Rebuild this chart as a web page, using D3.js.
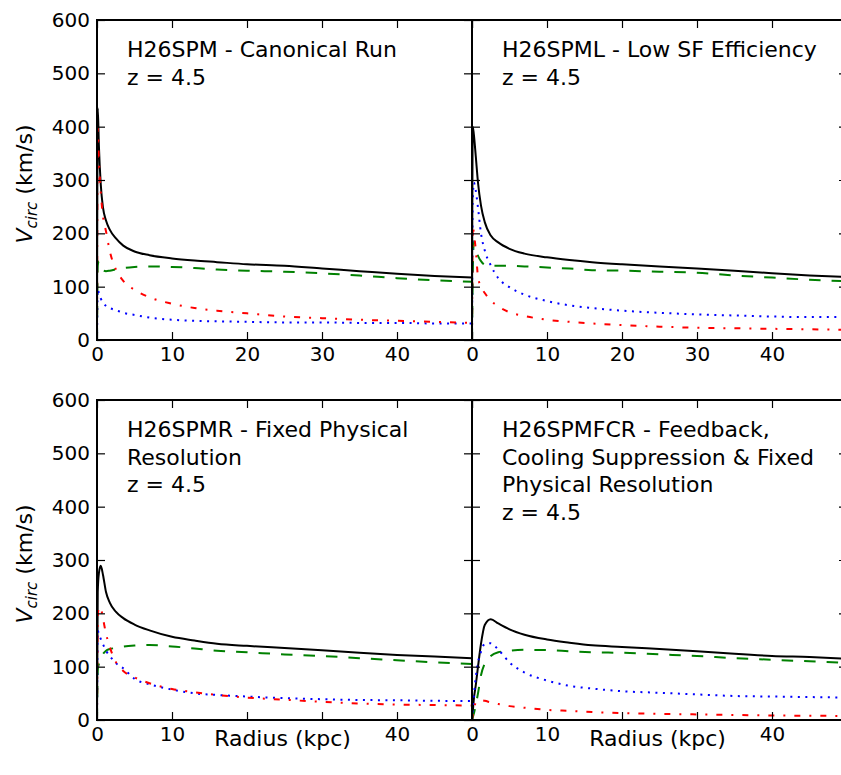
<!DOCTYPE html>
<html>
<head>
<meta charset="utf-8">
<script src="https://cdn.jsdelivr.net/npm/d3@7/dist/d3.min.js"></script>
<style>
  html, body { margin: 0; padding: 0; background: #fff; }
  svg { display: block; font-family: "DejaVu Sans", sans-serif; }
</style>
</head>
<body>
<svg id="chart" width="841" height="775"></svg>
<script>
// Radii (kpc) at which the rotation-curve components are sampled
const radius = [0, 0.1, 0.25, 0.5, 0.8, 1.2, 1.7, 2.5, 3.5, 5, 7, 10, 13, 16, 20, 25, 30, 35, 40, 45, 50];

// H26SPM - canonical run
const canonicalTotal = [0, 435, 365, 292, 248, 224, 207, 191, 177, 166, 159, 153, 149, 146, 142, 139, 134, 129, 124, 120, 117];
const canonicalDark  = [0, 140, 148, 140, 131, 129, 130, 132.5, 135, 137, 138, 137, 135, 132, 130, 128, 125, 121, 116, 112, 109];
const canonicalGas   = [0, 95, 88, 78, 70, 64, 60, 56, 51, 47, 42, 38, 36, 35, 34, 33, 33, 32, 32, 31, 31];
const canonicalStars = [0, 397, 340, 278, 232, 204, 167, 133, 111, 94, 80, 68, 60, 55, 50, 44, 41, 38, 36, 34, 32];

// H26SPML - low star formation efficiency
const lowSFTotal = [0, 400, 385, 345, 295, 252, 221, 196, 183, 171, 162, 155, 150, 146, 142, 138, 134, 130, 125, 121, 118];
const lowSFDark  = [0, 120, 185, 172, 158, 148, 141, 139, 139, 139, 138, 136, 134, 131, 130, 128, 126, 121, 117, 113, 110];
const lowSFGas   = [0, 260, 295, 280, 248, 200, 168, 140, 116, 99, 85, 73, 65, 60, 55, 51, 48, 46, 44, 43, 43];
const lowSFStars = [0, 215, 200, 170, 118, 100, 88, 74, 63, 52, 45, 38, 34, 31, 28, 25, 23, 22, 21, 20, 19];

// H26SPMR - fixed physical resolution
const fixedResTotal = [0, 240, 275, 289, 272, 240, 220, 203, 191, 179, 168, 156, 149, 143, 139, 135, 131, 126, 122, 119, 116];
const fixedResDark  = [0, 94, 105, 117, 124, 130, 133, 135, 137.5, 139.5, 140.5, 138, 134, 130, 127, 123, 120, 116, 112, 108, 105];
const fixedResGas   = [0, 168, 160, 152, 142, 130, 120, 107, 97, 77, 67, 57, 50, 47, 44, 41, 39, 37.5, 37, 36, 35.5];
const fixedResStars = [0, 190, 212, 210, 190, 162, 137, 109, 92, 80, 69, 58, 52, 47, 42, 38, 34, 31, 29, 28, 27];

// H26SPMFCR - feedback, cooling suppression & fixed physical resolution
const fcrTotal = [0, 15, 40, 65, 100, 143, 178, 189, 181, 170, 160, 151, 145, 140, 137, 133, 129, 124, 120, 118, 115];
const fcrDark  = [0, 5, 12, 28, 50, 84, 106, 120, 127, 130, 131.5, 131, 129, 127, 126, 123, 120, 116, 113, 110, 107];
const fcrGas   = [0, 20, 45, 80, 108, 128, 143, 144, 132, 108, 89, 74, 64, 59, 54, 51, 48, 45, 44, 43, 42];
const fcrStars = [0, 10, 22, 32, 36, 37, 36, 33, 30, 26, 23, 19, 17, 15, 13, 11.5, 10.5, 9.5, 8.5, 8, 7.5];

// Panel annotations
const titleCanonical = ["H26SPM - Canonical Run", "z = 4.5"];
const titleLowSF     = ["H26SPML - Low SF Efficiency", "z = 4.5"];
const titleFixedRes  = ["H26SPMR - Fixed Physical", "Resolution", "z = 4.5"];
const titleFCR       = ["H26SPMFCR - Feedback,", "Cooling Suppression & Fixed", "Physical Resolution", "z = 4.5"];

// Axis ticks
const xTicks = [0, 10, 20, 30, 40, 50];
const yTicks = [0, 100, 200, 300, 400, 500, 600];
const xTickLabelsTop = [0, 10, 20, 30, 40];
const xTickLabelsBottom = [0, 10, 40];
const xDomain = [0, 50];
const yDomain = [0, 600];

const panels = [
  { col: 0, row: 0, title: titleCanonical, series: [canonicalTotal, canonicalDark, canonicalGas, canonicalStars] },
  { col: 1, row: 0, title: titleLowSF,     series: [lowSFTotal, lowSFDark, lowSFGas, lowSFStars] },
  { col: 0, row: 1, title: titleFixedRes,  series: [fixedResTotal, fixedResDark, fixedResGas, fixedResStars] },
  { col: 1, row: 1, title: titleFCR,       series: [fcrTotal, fcrDark, fcrGas, fcrStars] }
];

// Line styles: total, dark matter, gas, stars
const styles = [
  { color: "#000000", dash: null,        width: 2 },
  { color: "#008000", dash: "11.5,11",   width: 2 },
  { color: "#0000ff", dash: "2,5.5",     width: 2 },
  { color: "#ff0000", dash: "6,9,2,9",   width: 2 }
];

const layout = { left: [97, 472], top: [20, 400], width: 375, height: 320 };

const svg = d3.select("#chart");
svg.append("rect").attr("width", 841).attr("height", 775).attr("fill", "#fff");
const defs = svg.append("defs");

panels.forEach((p, i) => {
  const x0 = layout.left[p.col], y0 = layout.top[p.row];
  const x = d3.scaleLinear().domain(xDomain).range([0, layout.width]);
  const y = d3.scaleLinear().domain(yDomain).range([layout.height, 0]);

  const g = svg.append("g").attr("transform", `translate(${x0},${y0})`);

  defs.append("clipPath").attr("id", "clip" + i)
    .append("rect").attr("width", layout.width).attr("height", layout.height);

  const plot = g.append("g").attr("clip-path", `url(#clip${i})`);
  const line = d3.line()
    .x((d, k) => x(radius[k]))
    .y(d => y(d))
    .curve(d3.curveMonotoneX);

  p.series.forEach((vals, s) => {
    const st = styles[s];
    plot.append("path")
      .datum(vals)
      .attr("d", line)
      .attr("fill", "none")
      .attr("stroke", st.color)
      .attr("stroke-width", st.width)
      .attr("stroke-dasharray", st.dash)
      .attr("stroke-linejoin", "round");
  });

  // Inward ticks on all four sides
  const tickLen = -8;
  const bottomLabels = p.row === 0 ? xTickLabelsTop : xTickLabelsBottom;
  const axB = g.append("g").attr("transform", `translate(0,${layout.height})`)
    .call(d3.axisBottom(x).tickValues(xTicks).tickSize(tickLen).tickPadding(7)
      .tickFormat(d => bottomLabels.includes(d) ? d : ""));
  const axT = g.append("g")
    .call(d3.axisTop(x).tickValues(xTicks).tickSize(tickLen).tickFormat(""));
  const axL = g.append("g")
    .call(d3.axisLeft(y).tickValues(yTicks).tickSize(tickLen).tickPadding(7)
      .tickFormat(p.col === 0 ? d3.format("d") : () => ""));
  const axR = g.append("g").attr("transform", `translate(${layout.width},0)`)
    .call(d3.axisRight(y).tickValues(yTicks).tickSize(tickLen).tickFormat(""));

  [axB, axT, axL, axR].forEach(a => {
    a.select(".domain").remove();
    a.selectAll("line").attr("stroke", "#000").attr("stroke-width", 1.2);
    a.selectAll("text").attr("font-size", 20).attr("font-family", "DejaVu Sans").attr("fill", "#000");
  });

  // Frame
  g.append("rect")
    .attr("width", layout.width).attr("height", layout.height)
    .attr("fill", "none").attr("stroke", "#000").attr("stroke-width", 2);

  // Panel title
  const t = g.append("text").attr("font-size", 22).attr("fill", "#000");
  p.title.forEach((ln, k) => {
    t.append("tspan").attr("x", 30).attr("y", 37 + k * 27.5).text(ln);
  });

  // Axis labels
  if (p.col === 0) {
    const yl = svg.append("text")
      .attr("transform", `translate(32,${y0 + layout.height / 2 + 4}) rotate(-90)`)
      .attr("text-anchor", "middle").attr("font-size", 22).attr("fill", "#000");
    yl.append("tspan").attr("font-style", "italic").text("V");
    yl.append("tspan").attr("font-style", "italic").attr("font-size", 15).attr("dy", 5).text("circ");
    yl.append("tspan").attr("dy", -5).text(" (km/s)");
  }
  if (p.row === 1) {
    svg.append("text")
      .attr("x", x0 + layout.width / 2 - 2).attr("y", 746)
      .attr("text-anchor", "middle").attr("font-size", 22).attr("fill", "#000")
      .text("Radius (kpc)");
  }
});
</script>
</body>
</html>
